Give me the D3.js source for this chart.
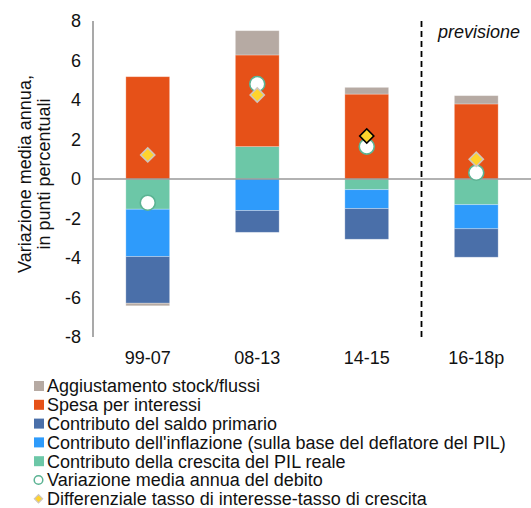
<!DOCTYPE html>
<html>
<head>
<meta charset="utf-8">
<script src="https://cdn.jsdelivr.net/npm/d3@7"></script>
<style>
  body { margin: 0; background: #fff; }
  svg { font-family: "Liberation Sans", Arial, sans-serif; }
</style>
</head>
<body>
<svg width="531" height="508"></svg>
<script>
// chart data
const categories = ['99-07', '08-13', '14-15', '16-18p'];
const stockFlussi = [-0.13, 1.23, 0.34, 0.42];
const spesaInteressi = [5.18, 4.64, 4.30, 3.80];
const saldoPrimario = [-2.36, -1.10, -1.55, -1.44];
const inflazione = [-2.40, -1.60, -0.96, -1.22];
const crescitaPil = [-1.53, 1.64, -0.54, -1.30];
const variazioneDebito = [-1.2, 4.81, 1.64, 0.32];
const differenziale = [1.22, 4.25, 2.18, 1.0];
const yTicks = [-8, -6, -4, -2, 0, 2, 4, 6, 8];

const series = [
  {key: 'crescita', label: 'Contributo della crescita del PIL reale', values: crescitaPil, color: '#6cc7a7'},
  {key: 'inflazione', label: "Contributo dell'inflazione (sulla base del deflatore del PIL)", values: inflazione, color: '#2e9bfb'},
  {key: 'saldo', label: 'Contributo del saldo primario', values: saldoPrimario, color: '#4a6fa9'},
  {key: 'interessi', label: 'Spesa per interessi', values: spesaInteressi, color: '#e65118'},
  {key: 'stock', label: 'Aggiustamento stock/flussi', values: stockFlussi, color: '#b6aaa3'}
];

const svg = d3.select('svg');
const plotLeft = 93, plotRight = 531, plotTop = 21, plotBottom = 337;
const fontSize = '18px';

const x = d3.scaleBand().domain(categories).range([plotLeft, plotRight]).paddingInner(0.6).paddingOuter(0.3);
const y = d3.scaleLinear().domain([-8, 8]).range([plotBottom, plotTop]);

const rows = categories.map((c, i) => {
  const r = {cat: c};
  series.forEach(s => { r[s.key] = s.values[i]; });
  return r;
});

const stack = d3.stack()
    .keys(series.map(s => s.key))
    .offset(d3.stackOffsetDiverging);
const stacked = stack(rows);

// bars
svg.append('g').selectAll('g')
  .data(stacked)
  .enter().append('g')
    .style('fill', (d, i) => series[i].color)
  .selectAll('rect')
  .data(d => d)
  .enter().append('rect')
    .attr('x', d => x(d.data.cat))
    .attr('width', x.bandwidth())
    .attr('y', d => y(Math.max(d[0], d[1])))
    .attr('height', d => Math.abs(y(d[0]) - y(d[1])))
    .style('stroke', 'rgba(255,255,255,0.35)')
    .style('stroke-width', 0.8);

// axes lines
svg.append('line')
  .attr('x1', plotLeft).attr('x2', plotLeft)
  .attr('y1', y(8)).attr('y2', y(-8))
  .style('stroke', '#8c8c8c').style('stroke-width', 1.5);

svg.append('line')
  .attr('x1', plotLeft).attr('x2', plotRight)
  .attr('y1', y(0)).attr('y2', y(0))
  .style('stroke', '#999').style('stroke-width', 1.5);

// y tick labels
svg.append('g').selectAll('text')
  .data(yTicks)
  .enter().append('text')
    .attr('x', 81)
    .attr('y', d => y(d))
    .attr('dy', '0.35em')
    .style('text-anchor', 'end')
    .style('font-size', fontSize)
    .style('fill', '#111')
    .text(d => d);

// category labels
svg.append('g').selectAll('text')
  .data(categories)
  .enter().append('text')
    .attr('x', d => x(d) + x.bandwidth() / 2)
    .attr('y', 364)
    .style('text-anchor', 'middle')
    .style('font-size', fontSize)
    .style('fill', '#111')
    .text(d => d);

// y axis title
const yTitle = svg.append('text')
    .attr('transform', 'translate(31,174) rotate(-90)')
    .style('text-anchor', 'middle')
    .style('font-size', fontSize)
    .style('fill', '#111');
yTitle.append('tspan').attr('x', 0).attr('dy', 0).text('Variazione media annua,');
yTitle.append('tspan').attr('x', 0).attr('dy', 19).text('in punti percentuali');

// forecast divider
const divX = (x(categories[2]) + x.bandwidth() + x(categories[3])) / 2;
svg.append('line')
  .attr('x1', divX).attr('x2', divX)
  .attr('y1', y(8)).attr('y2', y(-8))
  .style('stroke', '#000')
  .style('stroke-width', 1.8)
  .style('stroke-dasharray', '6,4');

svg.append('text')
  .attr('x', 438)
  .attr('y', 38)
  .style('font-size', fontSize)
  .style('font-style', 'italic')
  .style('fill', '#111')
  .text('previsione');

// circles: variazione media annua del debito
svg.append('g').selectAll('circle')
  .data(variazioneDebito)
  .enter().append('circle')
    .attr('cx', (d, i) => x(categories[i]) + x.bandwidth() / 2)
    .attr('cy', d => y(d))
    .attr('r', 7.5)
    .style('fill', '#fff')
    .style('stroke', '#5bb393')
    .style('stroke-width', 1.6);

// diamonds: differenziale
const diamond = d3.symbol().type(d3.symbolSquare).size(100);
svg.append('g').selectAll('path')
  .data(differenziale)
  .enter().append('path')
    .attr('d', diamond)
    .attr('transform', (d, i) => 'translate(' + (x(categories[i]) + x.bandwidth() / 2) + ',' + y(d) + ') rotate(45)')
    .style('fill', '#ffd32c')
    .style('stroke', (d, i) => i === 2 ? '#000' : '#cfc6bd')
    .style('stroke-width', 1.6);

// legend
const legendItems = [series[4], series[3], series[2], series[1], series[0],
  {label: 'Variazione media annua del debito', type: 'circle'},
  {label: 'Differenziale tasso di interesse-tasso di crescita', type: 'diamond'}];

const legend = svg.append('g').selectAll('g')
  .data(legendItems)
  .enter().append('g')
    .attr('transform', (d, i) => 'translate(0,' + (386 + i * 18.8) + ')');

legend.each(function(d) {
  const g = d3.select(this);
  if (d.type === 'circle') {
    g.append('circle').attr('cx', 38.5).attr('cy', 0).attr('r', 4.3)
      .style('fill', '#fff').style('stroke', '#5bb393').style('stroke-width', 1.5);
  } else if (d.type === 'diamond') {
    g.append('path').attr('d', d3.symbol().type(d3.symbolSquare).size(34))
      .attr('transform', 'translate(38.5,0) rotate(45)')
      .style('fill', '#ffd32c').style('stroke', '#cfc6bd').style('stroke-width', 1.2);
  } else {
    g.append('rect').attr('x', 34).attr('y', -5).attr('width', 10).attr('height', 10)
      .style('fill', d.color);
  }
  g.append('text')
    .attr('x', 47)
    .attr('dy', '0.35em')
    .style('font-size', fontSize)
    .style('fill', '#111')
    .text(d.label);
});
</script>
</body>
</html>
